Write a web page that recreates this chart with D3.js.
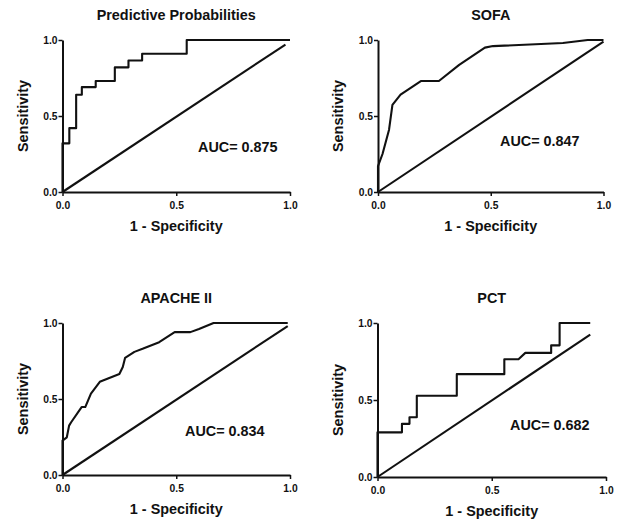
<!DOCTYPE html>
<html><head><meta charset="utf-8">
<script src="https://cdn.jsdelivr.net/npm/d3@7"></script>
<style>
html,body{margin:0;padding:0;background:#fff;}
text{font-family:"Liberation Sans",Arial,Helvetica,sans-serif;font-weight:bold;fill:#111;}
</style></head>
<body>
<svg id="c" width="620" height="522"></svg>
<script>
const titles = ["Predictive Probabilities", "SOFA", "APACHE II", "PCT"];
const aucLabels = ["AUC= 0.875", "AUC= 0.847", "AUC= 0.834", "AUC= 0.682"];
const tickValues = [0, 0.5, 1.0];
const tickLabels = ["0.0", "0.5", "1.0"];
const xAxisLabel = "1 - Specificity";
const yAxisLabel = "Sensitivity";

const predFpr = [0, 0, 0.03, 0.03, 0.06, 0.06, 0.085, 0.085, 0.146, 0.146, 0.23, 0.23, 0.29, 0.29, 0.35, 0.35, 0.546, 0.546, 1.0];
const predTpr = [0, 0.32, 0.32, 0.42, 0.42, 0.64, 0.64, 0.69, 0.69, 0.73, 0.73, 0.82, 0.82, 0.865, 0.865, 0.91, 0.91, 1.0, 1.0];

const sofaFpr = [0, 0, 0.02, 0.049, 0.064, 0.1, 0.19, 0.27, 0.36, 0.474, 0.51, 0.82, 0.93, 1.0];
const sofaTpr = [0, 0.17, 0.25, 0.41, 0.573, 0.64, 0.73, 0.73, 0.836, 0.95, 0.96, 0.98, 1.0, 1.0];

const apacheFpr = [0, 0, 0.019, 0.029, 0.038, 0.084, 0.1, 0.125, 0.164, 0.2, 0.25, 0.265, 0.275, 0.316, 0.352, 0.425, 0.493, 0.562, 0.6, 0.664, 0.99];
const apacheTpr = [0, 0.226, 0.248, 0.325, 0.347, 0.447, 0.447, 0.535, 0.613, 0.635, 0.664, 0.71, 0.77, 0.81, 0.83, 0.874, 0.94, 0.94, 0.96, 1.0, 1.0];

const pctFpr = [0, 0, 0.107, 0.107, 0.14, 0.14, 0.172, 0.172, 0.347, 0.347, 0.555, 0.555, 0.617, 0.647, 0.76, 0.76, 0.797, 0.797, 0.931];
const pctTpr = [0, 0.29, 0.29, 0.345, 0.345, 0.388, 0.388, 0.528, 0.528, 0.668, 0.668, 0.765, 0.765, 0.806, 0.806, 0.855, 0.855, 1.0, 1.0];

const diagFpr = [[0, 0.98], [0, 1.0], [0, 0.99], [0, 0.931]];
const diagTpr = [[0, 0.97], [0, 0.99], [0, 0.98], [0, 0.925]];

const curves = [[predFpr, predTpr], [sofaFpr, sofaTpr], [apacheFpr, apacheTpr], [pctFpr, pctTpr]];

// panel boxes [left, right, top, bottom]
const boxes = [[62.5, 290, 40, 192], [378, 603.5, 40, 192], [62.5, 290, 323, 475], [377.5, 606, 323, 477]];
const aucPos = [[198, 152], [500, 146], [185, 436], [510, 430]];

const svg = d3.select("#c");

boxes.forEach((b, i) => {
  const [l, r, t, bt] = b;
  const x = d3.scaleLinear().domain([0, 1]).range([l, r]);
  const y = d3.scaleLinear().domain([0, 1]).range([bt, t]);
  const g = svg.append("g");

  const xa = g.append("g").attr("transform", `translate(0,${bt})`)
    .call(d3.axisBottom(x).tickValues(tickValues).tickFormat((d, k) => tickLabels[k]).tickSize(4).tickSizeOuter(0));
  const ya = g.append("g").attr("transform", `translate(${l},0)`)
    .call(d3.axisLeft(y).tickValues(tickValues).tickFormat((d, k) => tickLabels[k]).tickSize(4).tickSizeOuter(0));
  [xa, ya].forEach(a => {
    a.select(".domain").attr("stroke", "#111").attr("stroke-width", 2);
    a.selectAll(".tick line").attr("stroke", "#111").attr("stroke-width", 1.5);
    a.selectAll(".tick text").style("font-size", "10.3px").style("font-weight", "bold").attr("fill", "#111")
      .style("font-family", '"Liberation Sans",Arial,sans-serif');
  });
  xa.selectAll(".tick text").attr("dy", "0.95em");
  ya.selectAll(".tick text").attr("x", -5).attr("dy", "0.35em");

  const line = d3.line().x(d => x(d[0])).y(d => y(d[1]));
  const [fx, fy] = curves[i];
  g.append("path").datum(fx.map((v, k) => [v, fy[k]]))
    .attr("d", line).attr("fill", "none").attr("stroke", "#111").attr("stroke-width", 2.1).attr("stroke-linejoin", "round");
  g.append("path").datum(diagFpr[i].map((v, k) => [v, diagTpr[i][k]]))
    .attr("d", line).attr("fill", "none").attr("stroke", "#111").attr("stroke-width", 2.1);

  const cx = (l + r) / 2;
  g.append("text").attr("x", cx).attr("y", t - 20).attr("text-anchor", "middle").style("font-size", "14.4px").text(titles[i]);
  g.append("text").attr("x", cx).attr("y", bt + 39).attr("text-anchor", "middle").style("font-size", "14.4px").text(xAxisLabel);
  g.append("text").attr("transform", `translate(${l - 35},${(t + bt) / 2}) rotate(-90)`)
    .attr("text-anchor", "middle").style("font-size", "14.4px").text(yAxisLabel);
  g.append("text").attr("x", aucPos[i][0]).attr("y", aucPos[i][1]).style("font-size", "14.4px").text(aucLabels[i]);
});
</script>
</body></html>
